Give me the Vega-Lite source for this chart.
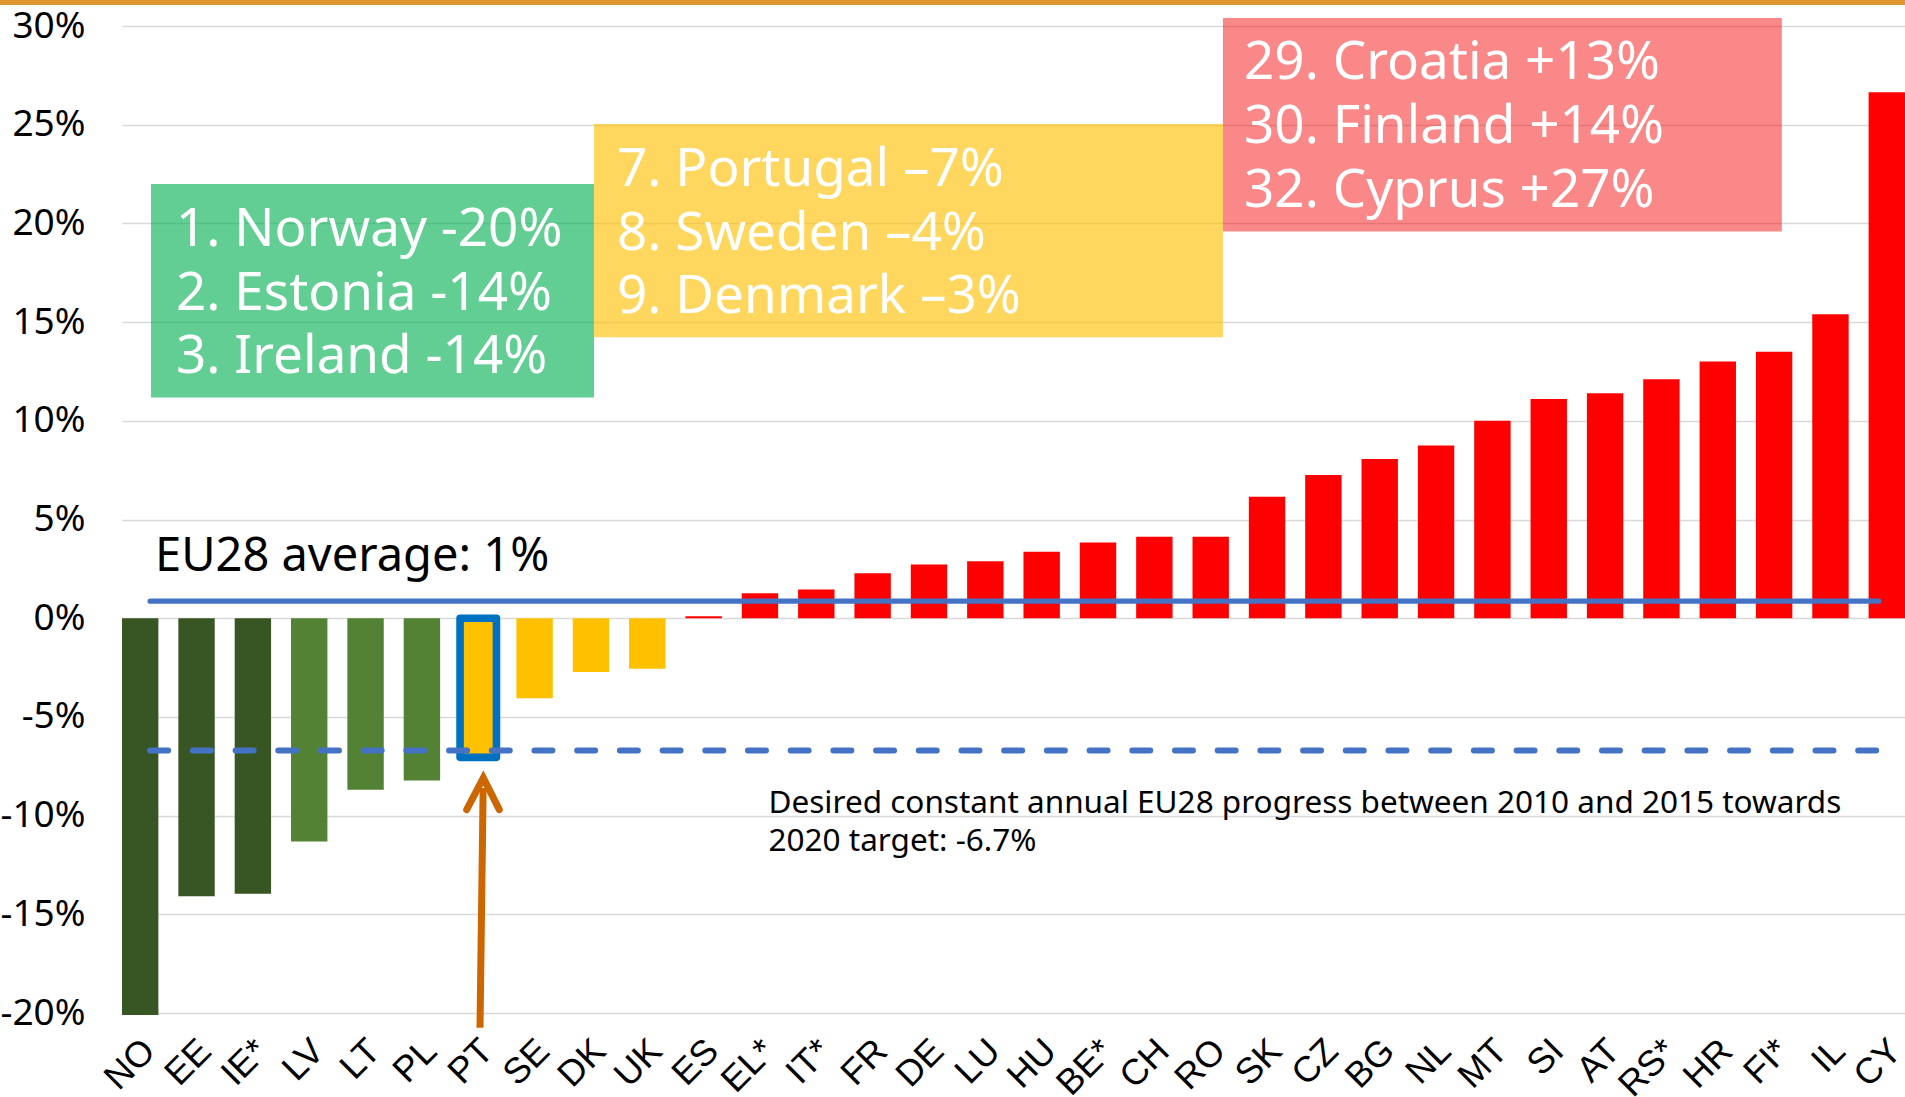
{
  "$schema": "https://vega.github.io/schema/vega-lite/v6.json",
  "width": 1783,
  "height": 987,
  "autosize": {"type": "none"},
  "padding": {"left": 122, "top": 26, "right": 0, "bottom": 84},
  "background": "#ffffff",
  "config": {"view": {"stroke": null}, "font": "Noto Sans"},
  "datasets": {
    "bars": [
      {"c": "NO", "v": -20.1, "g": "d"},
      {"c": "EE", "v": -14.08, "g": "d"},
      {"c": "IE*", "v": -13.96, "g": "d"},
      {"c": "LV", "v": -11.31, "g": "m"},
      {"c": "LT", "v": -8.69, "g": "m"},
      {"c": "PL", "v": -8.22, "g": "m"},
      {"c": "PT", "v": -7.05, "g": "y"},
      {"c": "SE", "v": -4.06, "g": "y"},
      {"c": "DK", "v": -2.72, "g": "y"},
      {"c": "UK", "v": -2.56, "g": "y"},
      {"c": "ES", "v": 0.1, "g": "r"},
      {"c": "EL*", "v": 1.27, "g": "r"},
      {"c": "IT*", "v": 1.45, "g": "r"},
      {"c": "FR", "v": 2.28, "g": "r"},
      {"c": "DE", "v": 2.72, "g": "r"},
      {"c": "LU", "v": 2.88, "g": "r"},
      {"c": "HU", "v": 3.37, "g": "r"},
      {"c": "BE*", "v": 3.83, "g": "r"},
      {"c": "CH", "v": 4.13, "g": "r"},
      {"c": "RO", "v": 4.13, "g": "r"},
      {"c": "SK", "v": 6.15, "g": "r"},
      {"c": "CZ", "v": 7.26, "g": "r"},
      {"c": "BG", "v": 8.06, "g": "r"},
      {"c": "NL", "v": 8.75, "g": "r"},
      {"c": "MT", "v": 10.0, "g": "r"},
      {"c": "SI", "v": 11.1, "g": "r"},
      {"c": "AT", "v": 11.4, "g": "r"},
      {"c": "RS*", "v": 12.1, "g": "r"},
      {"c": "HR", "v": 13.0, "g": "r"},
      {"c": "FI*", "v": 13.5, "g": "r"},
      {"c": "IL", "v": 15.4, "g": "r"},
      {"c": "CY", "v": 26.64, "g": "r"}
    ],
    "boxes": [
      {"box": "green", "x1": 0.515, "x2": 8.378, "y1": 22.0, "y2": 11.18, "tx": 0.958, "ty": 18.86, "label": "1. Norway -20%\n2. Estonia -14%\n3. Ireland -14%"},
      {"box": "yellow", "x1": 8.378, "x2": 19.54, "y1": 25.04, "y2": 14.23, "tx": 8.786, "ty": 21.9, "label": "7. Portugal –7%\n8. Sweden –4%\n9. Denmark –3%"},
      {"box": "red", "x1": 19.54, "x2": 29.46, "y1": 30.405, "y2": 19.59, "tx": 19.915, "ty": 27.3, "label": "29. Croatia +13%\n30. Finland +14%\n32. Cyprus +27%"}
    ],
    "refs": [
      {"kind": "avg", "x1": 0.5, "x2": 31.18, "v": 0.86},
      {"kind": "target", "x1": 0.5, "x2": 31.18, "v": -6.7}
    ],
    "notes": [
      {"kind": "avg", "tx": 0.586, "ty": 2.37, "label": "EU28 average: 1%"},
      {"kind": "target", "tx": 11.475, "ty": -9.85, "label": "Desired constant annual EU28 progress between 2010 and 2015 towards\n2020 target: -6.7%"}
    ],
    "frame": [
      {"x1": -2.5, "x2": 32.5, "v": 31.19}
    ],
    "shaft": [
      {"x1": 6.354, "y1": -20.75, "x2": 6.41, "y2": -8.6}
    ],
    "head": [
      {"i": 0, "u": 6.118, "p": -9.7},
      {"i": 1, "u": 6.413, "p": -8.09},
      {"i": 2, "u": 6.697, "p": -9.7}
    ]
  },
  "layer": [
    {
      "data": {"name": "bars"},
      "mark": {"type": "bar", "stroke": "#0070C0", "strokeJoin": "round"},
      "encoding": {
        "x": {
          "field": "c", "type": "nominal", "sort": null,
          "scale": {"paddingInner": 0.354, "paddingOuter": 0},
          "axis": {
            "title": null, "labelAngle": -45, "labelAlign": "right", "labelBaseline": "middle",
            "labelFont": "Liberation Sans", "labelFontSize": 36, "labelColor": "#000000",
            "labelPadding": 32, "labelOffset": 9, "ticks": false, "tickSize": 0,
            "domain": false, "grid": false, "labelOverlap": false
          }
        },
        "y": {
          "field": "v", "type": "quantitative", "title": null,
          "scale": {"domain": [-20, 30], "nice": false},
          "axis": {
            "values": [-20, -15, -10, -5, 0, 5, 10, 15, 20, 25, 30],
            "labelExpr": "datum.value + '%'",
            "labelFont": "Noto Sans", "labelFontSize": 37, "labelColor": "#000000",
            "labelPadding": 37, "ticks": false, "tickSize": 0, "domain": false,
            "grid": true, "gridColor": "#d9d9d9", "gridWidth": 1.6, "title": null, "labelOverlap": false
          }
        },
        "color": {
          "field": "g", "type": "nominal", "legend": null,
          "scale": {"domain": ["d", "m", "y", "r"], "range": ["#375623", "#548235", "#FFC000", "#FF0000"]}
        },
        "strokeWidth": {"condition": {"test": "datum.c === 'PT'", "value": 7.6}, "value": 0}
      }
    },
    {
      "layer": [
        {
          "data": {"name": "boxes"},
          "mark": {"type": "rect"},
          "encoding": {
            "x": {"field": "x1", "type": "quantitative", "scale": {"domain": [0, 31.646], "nice": false, "zero": false}, "axis": null},
            "x2": {"field": "x2"},
            "y": {"field": "y1", "type": "quantitative", "scale": {"domain": [-20, 30], "nice": false}, "title": null},
            "y2": {"field": "y2"},
            "color": {
              "field": "box", "type": "nominal", "legend": null,
              "scale": {"domain": ["green", "yellow", "red"], "range": ["rgba(0,176,80,0.616)", "rgba(255,192,0,0.632)", "rgba(245,0,0,0.467)"]}
            }
          }
        },
        {
          "data": {"name": "frame"},
          "mark": {"type": "rule", "color": "#DD9630", "strokeWidth": 5},
          "encoding": {
            "x": {"field": "x1", "type": "quantitative", "scale": {"domain": [0, 31.646], "nice": false, "zero": false}, "axis": null},
            "x2": {"field": "x2"},
            "y": {"field": "v", "type": "quantitative", "scale": {"domain": [-20, 30], "nice": false}, "title": null}
          }
        },
        {
          "data": {"name": "refs"},
          "transform": [{"filter": "datum.kind === 'avg'"}],
          "mark": {"type": "rule", "color": "#4472C4", "strokeWidth": 5.3, "strokeCap": "round"},
          "encoding": {
            "x": {"field": "x1", "type": "quantitative", "scale": {"domain": [0, 31.646], "nice": false, "zero": false}, "axis": null},
            "x2": {"field": "x2"},
            "y": {"field": "v", "type": "quantitative", "scale": {"domain": [-20, 30], "nice": false}, "title": null}
          }
        },
        {
          "data": {"name": "refs"},
          "transform": [{"filter": "datum.kind === 'target'"}],
          "mark": {"type": "rule", "color": "#4472C4", "strokeWidth": 6, "strokeCap": "round", "strokeDash": [18, 24.7]},
          "encoding": {
            "x": {"field": "x1", "type": "quantitative", "scale": {"domain": [0, 31.646], "nice": false, "zero": false}, "axis": null},
            "x2": {"field": "x2"},
            "y": {"field": "v", "type": "quantitative", "scale": {"domain": [-20, 30], "nice": false}, "title": null}
          }
        },
        {
          "data": {"name": "boxes"},
          "mark": {"type": "text", "align": "left", "baseline": "alphabetic", "font": "Noto Sans", "fontSize": 53, "fill": "#ffffff", "lineBreak": "\n", "lineHeight": 63.8},
          "encoding": {
            "x": {"field": "tx", "type": "quantitative", "scale": {"domain": [0, 31.646], "nice": false, "zero": false}, "axis": null},
            "y": {"field": "ty", "type": "quantitative", "scale": {"domain": [-20, 30], "nice": false}, "title": null},
            "text": {"field": "label", "type": "nominal"}
          }
        },
        {
          "data": {"name": "notes"},
          "transform": [{"filter": "datum.kind === 'avg'"}],
          "mark": {"type": "text", "align": "left", "baseline": "alphabetic", "font": "Noto Sans", "fontSize": 47, "fill": "#000000"},
          "encoding": {
            "x": {"field": "tx", "type": "quantitative", "scale": {"domain": [0, 31.646], "nice": false, "zero": false}, "axis": null},
            "y": {"field": "ty", "type": "quantitative", "scale": {"domain": [-20, 30], "nice": false}, "title": null},
            "text": {"field": "label", "type": "nominal"}
          }
        },
        {
          "data": {"name": "notes"},
          "transform": [{"filter": "datum.kind === 'target'"}],
          "mark": {"type": "text", "align": "left", "baseline": "alphabetic", "font": "Noto Sans", "fontSize": 31.5, "fill": "#000000", "lineBreak": "\n", "lineHeight": 38},
          "encoding": {
            "x": {"field": "tx", "type": "quantitative", "scale": {"domain": [0, 31.646], "nice": false, "zero": false}, "axis": null},
            "y": {"field": "ty", "type": "quantitative", "scale": {"domain": [-20, 30], "nice": false}, "title": null},
            "text": {"field": "label", "type": "nominal"}
          }
        },
        {
          "data": {"name": "shaft"},
          "mark": {"type": "rule", "color": "#CC6600", "strokeWidth": 7, "strokeCap": "butt"},
          "encoding": {
            "x": {"field": "x1", "type": "quantitative", "scale": {"domain": [0, 31.646], "nice": false, "zero": false}, "axis": null},
            "x2": {"field": "x2"},
            "y": {"field": "y1", "type": "quantitative", "scale": {"domain": [-20, 30], "nice": false}, "title": null},
            "y2": {"field": "y2"}
          }
        },
        {
          "data": {"name": "head"},
          "mark": {"type": "line", "color": "#CC6600", "strokeWidth": 7, "strokeCap": "round", "strokeJoin": "miter"},
          "encoding": {
            "x": {"field": "u", "type": "quantitative", "scale": {"domain": [0, 31.646], "nice": false, "zero": false}, "axis": null},
            "y": {"field": "p", "type": "quantitative", "scale": {"domain": [-20, 30], "nice": false}, "title": null},
            "order": {"field": "i", "type": "quantitative"}
          }
        }
      ]
    }
  ],
  "resolve": {"scale": {"x": "independent", "color": "independent"}}
}
